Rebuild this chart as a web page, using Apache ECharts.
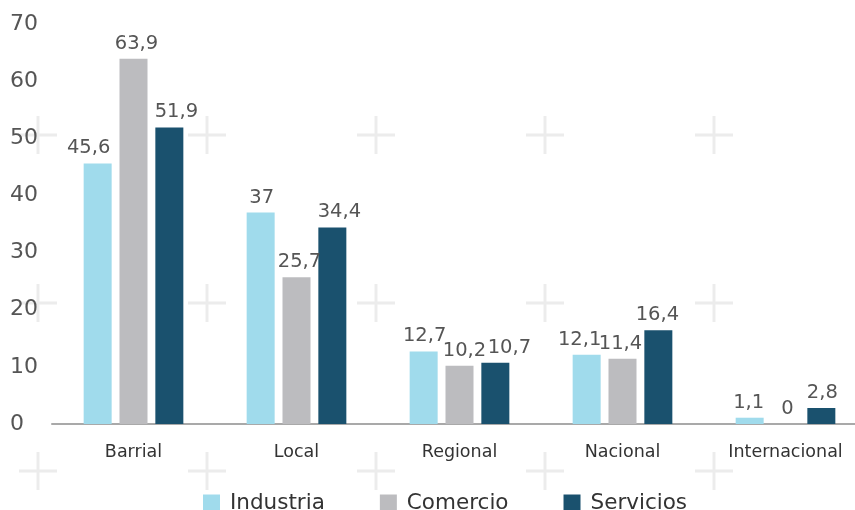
<!DOCTYPE html>
<html><head><meta charset="utf-8">
<script src="https://cdn.jsdelivr.net/npm/echarts@6/dist/echarts.min.js"></script>
<style>html,body{margin:0;padding:0;background:#fff}#c{width:855px;height:510px}</style>
</head><body><div id="c"></div>
<script>
const categories = ['Barrial', 'Local', 'Regional', 'Nacional', 'Internacional'];
const industria = [45.6, 37, 12.7, 12.1, 1.1];
const comercio = [63.9, 25.7, 10.2, 11.4, 0];
const servicios = [51.9, 34.4, 10.7, 16.4, 2.8];
const yTicks = [0, 10, 20, 30, 40, 50, 60, 70];

// horizontal label nudges (px) copied from the reference's label placement
const nudgeIndustria = [-9, 1, 1, -7, -1];
const nudgeComercio = [3, 3, 5, -2, 2];
const nudgeServicios = [7, 7, 14, -1, 1];

const FONT = 'DejaVu Sans';
const chart = echarts.init(document.getElementById('c'));

const plusXs = [38, 207, 376, 545, 714];
const plusYs = [135, 303, 471];
const graphics = [];
plusXs.forEach(x => plusYs.forEach(y => {
  graphics.push({type:'rect', shape:{x:x-19, y:y-1.5, width:38, height:3}, style:{fill:'#ececec'}, z:-10, silent:true});
  graphics.push({type:'rect', shape:{x:x-1.5, y:y-19, width:3, height:38}, style:{fill:'#ececec'}, z:-10, silent:true});
}));

function mk(name, values, nudges, color){
  return {name, type:'bar', barWidth:28, barGap:'28%', itemStyle:{color}, z:5,
    label:{show:true, position:'top', distance:5, color:'#555', fontSize:19.5, fontFamily:FONT,
      formatter: p => String(p.value).replace('.', ',')},
    data: values.map((v, i) => ({value:v, label:{offset:[nudges[i], 0]}}))};
}

chart.setOption({
  animation:false,
  graphic: graphics,
  grid:{left:52, top:24, width:815, bottom:86, outerBoundsMode:'none', containLabel:false},
  legend:{left:203, top:492, padding:0, itemWidth:17, itemHeight:17, itemGap:55, icon:'rect',
    textStyle:{fontSize:21.5, color:'#333', fontFamily:FONT, padding:[0,0,0,5]},
    data:['Industria','Comercio','Servicios']},
  xAxis:{type:'category', data:categories,
    axisLine:{lineStyle:{color:'#a9a9a9', width:2}},
    axisTick:{show:false},
    axisLabel:{fontSize:17.5, color:'#333', fontFamily:FONT, margin:19}},
  yAxis:{type:'value', min:yTicks[0], max:yTicks[yTicks.length-1], interval:10,
    splitLine:{show:false}, axisLine:{show:false}, axisTick:{show:false},
    axisLabel:{fontSize:22, color:'#555', fontFamily:FONT, align:'left', margin:42}},
  series:[mk('Industria', industria, nudgeIndustria, '#a0dbec'),
          mk('Comercio', comercio, nudgeComercio, '#bcbcbf'),
          mk('Servicios', servicios, nudgeServicios, '#1a516e')]
});
</script></body></html>
